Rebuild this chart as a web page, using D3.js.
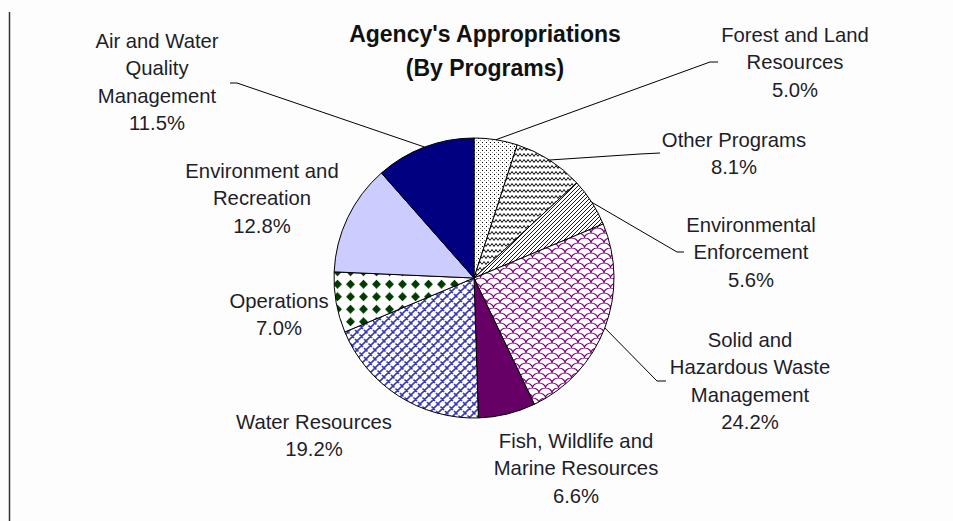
<!DOCTYPE html>
<html>
<head>
<meta charset="utf-8">
<script src="https://cdn.jsdelivr.net/npm/d3@7"></script>
<style>
  html, body { margin: 0; padding: 0; background: #fdfdfd; }
  svg { display: block; font-family: "Liberation Sans", Arial, sans-serif; }
  .lbl { font-size: 20.3px; fill: #1e1e2a; }
  .title { font-size: 23px; font-weight: bold; fill: #111; }
</style>
</head>
<body>
<svg class="d3" width="953" height="521"></svg>
<script>
// slices, clockwise from 12 o'clock
var programs = ["Forest and Land Resources", "Other Programs", "Environmental Enforcement",
  "Solid and Hazardous Waste Management", "Fish, Wildlife and Marine Resources",
  "Water Resources", "Operations", "Environment and Recreation", "Air and Water Quality Management"];
var shares = [5.0, 8.1, 5.6, 24.2, 6.6, 19.2, 7.0, 12.8, 11.5];
var labelLines = [
  ["Forest and Land", "Resources"],
  ["Other Programs"],
  ["Environmental", "Enforcement"],
  ["Solid and", "Hazardous Waste", "Management"],
  ["Fish, Wildlife and", "Marine Resources"],
  ["Water Resources"],
  ["Operations"],
  ["Environment and", "Recreation"],
  ["Air and Water", "Quality", "Management"]
];
var titleLines = ["Agency's Appropriations", "(By Programs)"];

// label placement: centre x, first baseline, optional leader (elbow, end)
var layout = [
  {x: 795, y: 42, elbow: [710, 62], end: [718, 62]},
  {x: 734, y: 147, elbow: [640, 154], end: [660, 153]},
  {x: 751, y: 232, elbow: [677, 252], end: [684, 252]},
  {x: 750, y: 347, elbow: [657, 381], end: [666, 381]},
  {x: 576, y: 448},
  {x: 314, y: 429},
  {x: 279, y: 308},
  {x: 262, y: 178},
  {x: 157, y: 48, elbow: [237, 83], end: [230, 83]}
];

var svg = d3.select("svg.d3"),
    cx = 474, cy = 278, r = 140, lineH = 27.3;

svg.append("rect").attr("width", 953).attr("height", 521).attr("fill", "#fdfdfd");

// left frame line
svg.append("line")
    .attr("x1", 9.5).attr("x2", 9.5).attr("y1", 12).attr("y2", 521)
    .attr("stroke", "#333").attr("stroke-width", 1.5);

// fill patterns
var defs = svg.append("defs");

function pattern(id, w, h) {
  var p = defs.append("pattern").attr("id", id)
      .attr("patternUnits", "userSpaceOnUse")
      .attr("width", w).attr("height", h);
  p.append("rect").attr("width", w).attr("height", h).attr("fill", "#fff");
  return p;
}

// dotted
var pDots = pattern("dots", 4, 4);
pDots.append("rect").attr("x", 0).attr("y", 0).attr("width", 1).attr("height", 1).attr("fill", "#000");
pDots.append("rect").attr("x", 2).attr("y", 2).attr("width", 1).attr("height", 1).attr("fill", "#888");

// wave
var pWave = pattern("wave", 8, 6);
pWave.append("path")
    .attr("d", "M0,4.5 L2,1.5 L4,4.5 L6,1.5 L8,4.5")
    .attr("fill", "none").attr("stroke", "#000").attr("stroke-width", 1);

// diagonal
var pDiag = pattern("diag", 4, 4);
pDiag.append("path")
    .attr("d", "M-1,1 L1,-1 M0,4 L4,0 M3,5 L5,3")
    .attr("stroke", "#000").attr("stroke-width", 0.9);

// scales
var pScale = pattern("scale", 13, 10);
pScale.append("path")
    .attr("d", "M0,5 A6.5,5 0 0 1 13,5 M-6.5,10 A6.5,5 0 0 1 6.5,10 M6.5,10 A6.5,5 0 0 1 19.5,10 M-6.5,0 A6.5,5 0 0 1 6.5,0 M6.5,0 A6.5,5 0 0 1 19.5,0")
    .attr("fill", "none").attr("stroke", "#800080").attr("stroke-width", 1.1);

// weave
var pWeave = pattern("weave", 9, 9);
pWeave.append("path")
    .attr("d", "M0,9 L9,0 M-2,2 L2,-2 M7,11 L11,7 M2.5,2.5 L6,6 M7,7 L9,9 M0,0 L1.5,1.5")
    .attr("fill", "none").attr("stroke", "#3a3ab4").attr("stroke-width", 1.6);

// diamonds
var pDiam = pattern("diam", 13, 12.5);
pDiam.append("path")
    .attr("d", "M6.5,1.8 L11,6.25 L6.5,10.7 L2,6.25 Z")
    .attr("fill", "#003b00");

var fills = ["url(#dots)", "url(#wave)", "url(#diag)", "url(#scale)", "#660066",
             "url(#weave)", "url(#diam)", "#ccccff", "#000080"];

var pie = d3.pie().sort(null).value(function(d) { return d; });
var arc = d3.arc().innerRadius(0).outerRadius(r);
var arcs = pie(shares);

var g = svg.append("g").attr("transform", "translate(" + cx + "," + cy + ")");

g.selectAll("path.slice")
    .data(arcs)
    .enter().append("path")
      .attr("class", "slice")
      .attr("d", arc)
      .attr("fill", function(d, i) { return fills[i]; })
      .attr("stroke", "#000")
      .attr("stroke-width", 1);

// leader lines from the slice's outer edge
arcs.forEach(function(d, i) {
  var L = layout[i];
  if (!L.elbow) return;
  var a = (d.startAngle + d.endAngle) / 2;
  var sx = cx + r * Math.sin(a), sy = cy - r * Math.cos(a);
  svg.append("path")
      .attr("d", d3.line()([[sx, sy], L.elbow, L.end]))
      .attr("fill", "none").attr("stroke", "#000").attr("stroke-width", 1);
});

// labels
arcs.forEach(function(d, i) {
  var L = layout[i];
  var lines = labelLines[i].concat([d3.format(".1f")(shares[i]) + "%"]);
  var t = svg.append("text").attr("class", "lbl").attr("text-anchor", "middle");
  lines.forEach(function(s, k) {
    t.append("tspan").attr("x", L.x).attr("y", L.y + k * lineH).text(s);
  });
});

// title
var title = svg.append("text").attr("class", "title").attr("text-anchor", "middle");
titleLines.forEach(function(s, k) {
  title.append("tspan").attr("x", 485).attr("y", 42 + k * 34).text(s);
});
</script>
</body>
</html>
